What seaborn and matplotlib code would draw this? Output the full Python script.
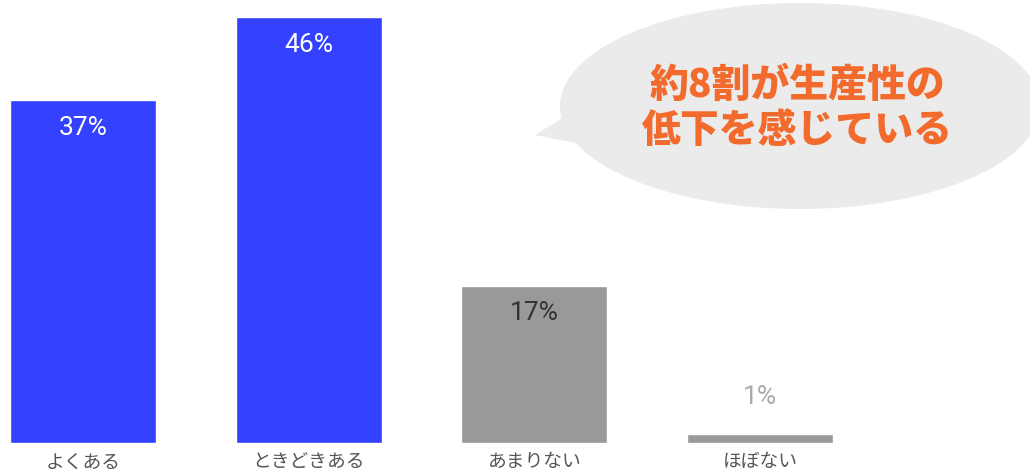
import matplotlib
matplotlib.use("Agg")
import matplotlib.pyplot as plt
import seaborn as sns
import pandas as pd
from matplotlib.patches import Ellipse, Polygon

categories = ["よくある", "ときどきある", "あまりない", "ほぼない"]
values = [37, 46, 17, 1]
labels = ["37%", "46%", "17%", "1%"]
bar_colors = ["#3441ff", "#3441ff", "#999999", "#999999"]
bubble_lines = ["約8割が生産性の", "低下を感じている"]

sns.set_theme(style="white")
plt.rcParams["font.family"] = ["Noto Sans CJK JP", "DejaVu Sans"]

fig = plt.figure(figsize=(10.30, 4.71), dpi=100)
ax = fig.add_axes([0, 1 - 443 / 471, 1, 443 / 471])

df = pd.DataFrame({"cat": categories, "val": values})
sns.barplot(data=df, x="cat", y="val", hue="cat", palette=bar_colors,
            width=0.647, legend=False, ax=ax, saturation=1)

ax.set_xlim(-0.368, 4.196)
ax.set_ylim(0, 47.84)
ax.set_xlabel("")
ax.set_ylabel("")
ax.set_yticks([])
for s in ax.spines.values():
    s.set_visible(False)
ax.tick_params(axis="x", length=0, pad=6, labelsize=13.5, labelcolor="#555555")

text_colors = ["white", "white", "#333333", "#aaaaaa"]
for i, (v, lab) in enumerate(zip(values, labels)):
    y = v - 3.0 if v > 5 else v + 4.0
    ax.text(i, y, lab, ha="center", va="center", fontsize=19,
            color=text_colors[i], family=["Roboto", "DejaVu Sans"])

# overlay for speech bubble
ov = fig.add_axes([0, 0, 1, 1], facecolor="none")
ov.set_xlim(0, 1030)
ov.set_ylim(471, 0)
ov.axis("off")
ov.add_patch(Polygon([[600, 95], [535, 135], [612, 150]], closed=True,
                     facecolor="#ebebeb", edgecolor="none"))
ov.add_patch(Ellipse((800, 106), 480, 206, facecolor="#ebebeb", edgecolor="none"))
ov.text(797, 85, bubble_lines[0], ha="center", va="center", fontsize=28,
        fontweight="heavy", color="#f26a2c")
ov.text(797, 130, bubble_lines[1], ha="center", va="center", fontsize=28,
        fontweight="heavy", color="#f26a2c")

fig.savefig("out.png", dpi=100, facecolor="white")
